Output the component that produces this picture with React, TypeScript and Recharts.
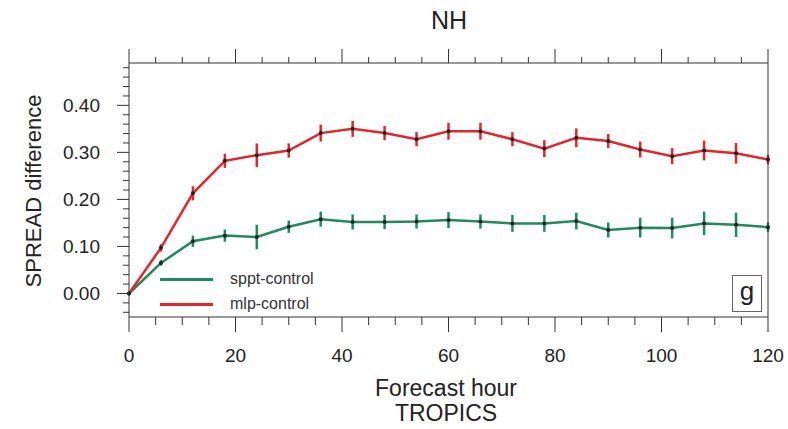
import { FC } from "react"
import { LineChart, Line, XAxis, YAxis, ErrorBar } from "recharts"

const hours = [0, 6, 12, 18, 24, 30, 36, 42, 48, 54, 60, 66, 72, 78, 84, 90, 96, 102, 108, 114, 120]
const mlpControl = [0, 0.097, 0.213, 0.282, 0.294, 0.304, 0.341, 0.35, 0.341, 0.328, 0.345, 0.345, 0.328, 0.308, 0.331, 0.324, 0.306, 0.292, 0.304, 0.298, 0.285]
const mlpErr = [0, 0.008, 0.015, 0.015, 0.025, 0.015, 0.018, 0.017, 0.015, 0.015, 0.018, 0.018, 0.015, 0.018, 0.02, 0.015, 0.017, 0.017, 0.021, 0.022, 0.01]
const spptControl = [0, 0.065, 0.111, 0.123, 0.12, 0.142, 0.158, 0.152, 0.152, 0.153, 0.156, 0.153, 0.149, 0.149, 0.154, 0.135, 0.14, 0.139, 0.149, 0.146, 0.141]
const spptErr = [0, 0.006, 0.012, 0.013, 0.026, 0.013, 0.016, 0.016, 0.015, 0.015, 0.017, 0.015, 0.018, 0.018, 0.018, 0.016, 0.021, 0.022, 0.025, 0.026, 0.01]

const xTicks = [0, 5, 10, 15, 20, 25, 30, 35, 40, 45, 50, 55, 60, 65, 70, 75, 80, 85, 90, 95, 100, 105, 110, 115, 120]
const yTicks = [-0.04, -0.02, 0, 0.02, 0.04, 0.06, 0.08, 0.1, 0.12, 0.14, 0.16, 0.18, 0.2, 0.22, 0.24, 0.26, 0.28, 0.3, 0.32, 0.34, 0.36, 0.38, 0.4, 0.42, 0.44, 0.46, 0.48]

const data = hours.map((h, i) => ({
    hour: h,
    mlp: mlpControl[i],
    mlpErr: mlpErr[i],
    sppt: spptControl[i],
    spptErr: spptErr[i],
}))

const RED = "#e2262b"
const GREEN = "#1f8a5c"
const AXIS = "#333"
const FONT = "'Liberation Sans', Arial, Helvetica, sans-serif"

const isMajorX = (v: number) => v % 20 === 0
const isMajorY = (v: number) => Math.round(v * 100) % 10 === 0

const BottomTick = (props: any) => {
    const { x, y, payload } = props
    const major = isMajorX(payload.value)
    return <g>
        <line x1={x} y1={y} x2={x} y2={y + (major ? 15 : 8)} stroke={AXIS} />
        {major && <text x={x} y={y + 45} textAnchor="middle" fontSize={19} fontFamily={FONT} fill="#222">{payload.value}</text>}
    </g>
}

const TopTick = (props: any) => {
    const { x, y, payload } = props
    const major = isMajorX(payload.value)
    return <line x1={x} y1={y} x2={x} y2={y - (major ? 14 : 6)} stroke={AXIS} />
}

const LeftTick = (props: any) => {
    const { x, y, payload } = props
    const major = isMajorY(payload.value)
    return <g>
        <line x1={x} y1={y} x2={x - (major ? 12 : 6)} y2={y} stroke={AXIS} />
        {major && <text x={x - 29} y={y + 7} textAnchor="end" fontSize={19} fontFamily={FONT} fill="#222">{payload.value.toFixed(2)}</text>}
    </g>
}

const RightTick = (props: any) => {
    const { x, y, payload } = props
    const major = isMajorY(payload.value)
    return <line x1={x} y1={y} x2={x + (major ? 14 : 7)} y2={y} stroke={AXIS} />
}

const App: FC = () => {
    return (<div style={{ position: 'absolute', left: 0, top: 0, width: 788, height: 429, background: '#fff', fontFamily: FONT }}>
        <LineChart width={788} height={429} data={data} margin={{ top: 0, right: 0, bottom: 0, left: 0 }}>
            <XAxis xAxisId="b" dataKey="hour" type="number" domain={[0, 120]} ticks={xTicks} interval={0}
                orientation="bottom" height={112} tickSize={0} tickMargin={0} tick={<BottomTick />} axisLine={{ stroke: AXIS }} />
            <XAxis xAxisId="t" dataKey="hour" type="number" domain={[0, 120]} ticks={xTicks} interval={0}
                orientation="top" height={63} tickSize={0} tickMargin={0} tick={<TopTick />} axisLine={{ stroke: AXIS }} />
            <YAxis yAxisId="l" type="number" domain={[-0.05, 0.49]} ticks={yTicks} interval={0}
                orientation="left" width={129} tickSize={0} tickMargin={0} tick={<LeftTick />} axisLine={{ stroke: AXIS }} />
            <YAxis yAxisId="r" type="number" domain={[-0.05, 0.49]} ticks={yTicks} interval={0}
                orientation="right" width={20} tickSize={0} tickMargin={0} tick={<RightTick />} axisLine={{ stroke: AXIS }} />
            <Line xAxisId="b" yAxisId="l" dataKey="sppt" stroke={GREEN} strokeWidth={2.5} isAnimationActive={false}
                dot={{ r: 2, fill: '#222', stroke: 'none' }} activeDot={false}>
                <ErrorBar dataKey="spptErr" width={0} stroke={GREEN} strokeWidth={2.5} direction="y" isAnimationActive={false} />
            </Line>
            <Line xAxisId="b" yAxisId="l" dataKey="mlp" stroke={RED} strokeWidth={2.5} isAnimationActive={false}
                dot={{ r: 2, fill: '#222', stroke: 'none' }} activeDot={false}>
                <ErrorBar dataKey="mlpErr" width={0} stroke={RED} strokeWidth={2.5} direction="y" isAnimationActive={false} />
            </Line>
        </LineChart>

        <div style={{ position: 'absolute', left: 449, top: 20, transform: 'translate(-50%, -50%)', fontSize: 25, lineHeight: 1, color: '#222' }}>NH</div>
        <div style={{ position: 'absolute', left: 446, top: 388, transform: 'translate(-50%, -50%)', fontSize: 23, lineHeight: 1, color: '#222', whiteSpace: 'nowrap' }}>Forecast hour</div>
        <div style={{ position: 'absolute', left: 446, top: 413, transform: 'translate(-50%, -50%)', fontSize: 23, lineHeight: 1, color: '#222' }}>TROPICS</div>
        <div style={{ position: 'absolute', left: 34, top: 191, transform: 'translate(-50%, -50%) rotate(-90deg)', fontSize: 22, lineHeight: 1, color: '#222', whiteSpace: 'nowrap' }}>SPREAD difference</div>

        <div style={{ position: 'absolute', left: 160, top: 278, width: 53, height: 3, background: GREEN }} />
        <div style={{ position: 'absolute', left: 230, top: 279, transform: 'translateY(-50%)', fontSize: 16, lineHeight: 1, color: '#333', whiteSpace: 'nowrap' }}>sppt-control</div>
        <div style={{ position: 'absolute', left: 160, top: 303, width: 53, height: 3, background: RED }} />
        <div style={{ position: 'absolute', left: 230, top: 304, transform: 'translateY(-50%)', fontSize: 16, lineHeight: 1, color: '#333', whiteSpace: 'nowrap' }}>mlp-control</div>

        <div style={{ position: 'absolute', left: 732, top: 275, width: 30, height: 37, border: '1px solid #666', boxSizing: 'border-box',
            display: 'flex', alignItems: 'center', justifyContent: 'center', fontSize: 26, color: '#222', lineHeight: 1, paddingBottom: 6 }}>g</div>
    </div>)
}

export default App
